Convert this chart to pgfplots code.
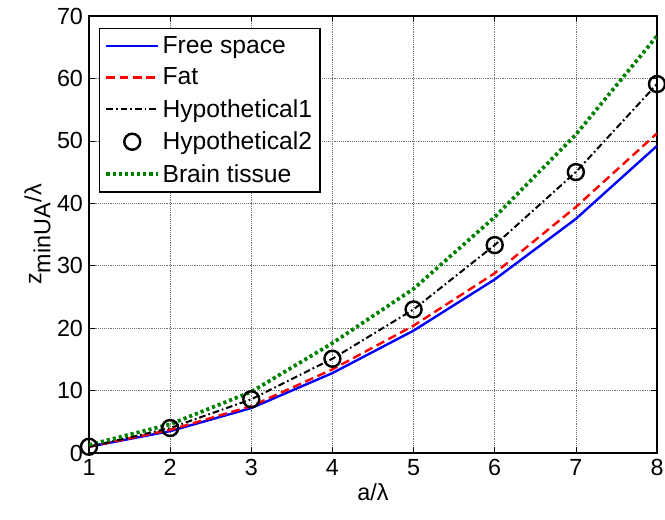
\documentclass[border=0pt]{standalone}
\usepackage{fontspec}
\setmainfont{Liberation Sans}
\usepackage{pgfplots}
\pgfplotsset{compat=1.18}

\definecolor{mblue}{rgb}{0,0,1}
\definecolor{mred}{rgb}{1,0,0}
\definecolor{mgreen}{rgb}{0,0.5,0}

\begin{document}
\begin{tikzpicture}
\path[use as bounding box] (-66.75pt,-50.25pt) rectangle (432pt,339.75pt);
\begin{axis}[
  scale only axis,
  width=426pt, height=327.75pt,
  at={(0,0)}, anchor=south west,
  xmin=1, xmax=8, ymin=0, ymax=70,
  xtick={1,2,...,8}, ytick={0,10,...,70},
  tick align=inside,
  major tick length=4.5pt,
  tick style={black, line width=0.5pt},
  axis line style={black, line width=0.9pt},
  grid=major,
  major grid style={densely dotted, black!55, line width=0.5pt},
  /pgf/number format/assume math mode=true,
  tick label style={font=\fontsize{17.5}{20}\selectfont},
  xticklabel style={yshift=-1pt},
  yticklabel style={xshift=-1pt},
  xlabel={a/λ},
  ylabel={z$_{\textrm{minUA}}$/λ},
  label style={font=\fontsize{17.5}{20}\selectfont},
  xlabel style={yshift=1pt},
  ylabel style={yshift=-2pt},
  legend cell align=left,
  legend style={at={(0.017,0.973)}, anchor=north west,
    draw=black, line width=0.9pt, fill=white,
    font=\fontsize{18.5}{21}\selectfont,
    row sep=5.4pt, inner xsep=4pt, inner ysep=4pt},
  legend image code/.code={
    \draw[mark repeat=2,mark phase=2] plot coordinates {(0cm,0cm) (0.68cm,0cm) (1.36cm,0cm)};
  },
]
% free space
\addplot[mblue, line width=1.8pt] coordinates {
  (1,1.0) (2,3.5) (3,7.2) (4,12.8) (5,19.6) (6,27.8) (7,37.5) (8,49.2)};
\addlegendentry{Free space}
% fat
\addplot[mred, line width=1.8pt, dash pattern=on 6.5pt off 3.5pt] coordinates {
  (1,1.0) (2,3.7) (3,7.5) (4,13.4) (5,20.4) (6,28.8) (7,39.4) (8,51.2)};
\addlegendentry{Fat}
% hypothetical medium 1
\addplot[black, line width=1.5pt, dash pattern=on 5pt off 2.2pt on 1.3pt off 2.2pt] coordinates {
  (1,1.0) (2,4.0) (3,8.6) (4,15.1) (5,23.0) (6,33.3) (7,45.0) (8,59.1)};
\addlegendentry{Hypothetical1}
% hypothetical medium 2
\addplot[only marks, black, mark=o, mark size=6pt, mark options={line width=1.8pt}] coordinates {
  (1,1.0) (2,4.0) (3,8.6) (4,15.1) (5,23.0) (6,33.3) (7,45.0) (8,59.1)};
\addlegendentry{Hypothetical2}
% brain tissue
\addplot[mgreen, line width=2.8pt, dash pattern=on 2.4pt off 2.2pt] coordinates {
  (1,1.3) (2,4.6) (3,9.8) (4,17.6) (5,26.3) (6,37.8) (7,51.0) (8,66.8)};
\addlegendentry{Brain tissue}
\end{axis}
\end{tikzpicture}
\end{document}
